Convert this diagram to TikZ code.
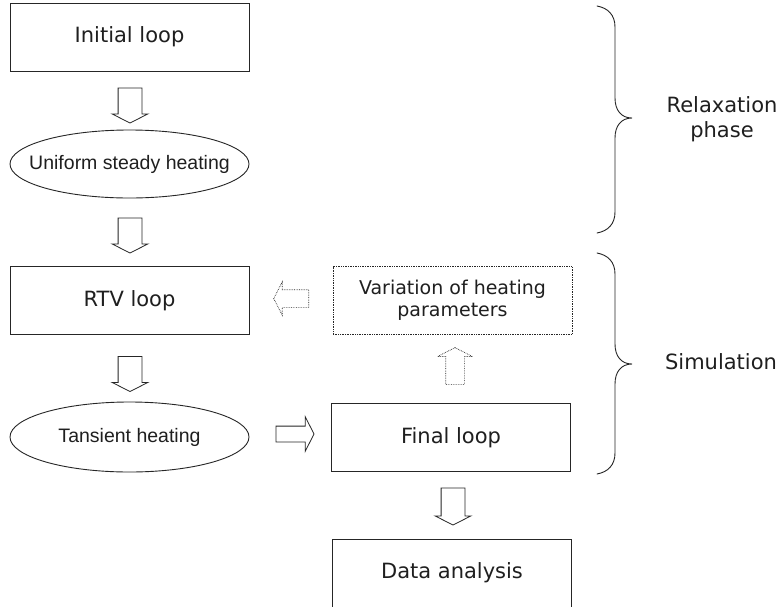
\documentclass[tikz,border=0pt]{standalone}
\usepackage{fontspec}
\setmainfont{DejaVu Sans}
\newfontfamily\ellfont{Liberation Sans}
\usetikzlibrary{shapes.geometric,shapes.arrows}
\begin{document}
\begin{tikzpicture}[x=1pt,y=-1pt,
  ink/.style={draw=black!85,line width=0.9pt},
  box/.style={ink,rectangle,minimum width=239,minimum height=68,inner sep=0pt,
    text=black!88,font=\fontsize{21}{25}\selectfont},
  dotbox/.style={box,draw=black!85,line width=0.7pt,densely dotted,align=center,
    font=\fontsize{19}{22}\selectfont},
  ell/.style={ink,ellipse,minimum width=239,minimum height=68,inner sep=0pt},
  elltext/.style={text=black!88,font=\ellfont\fontsize{19.5}{23}\selectfont},
  barrow/.style={ink,line width=0.8pt,single arrow,inner xsep=0pt,inner ysep=11.5pt,
    minimum height=35,single arrow head extend=6,single arrow tip angle=126},
  dotarrow/.style={barrow,draw=black!85,line width=0.7pt,densely dotted,
    inner ysep=9pt,single arrow head extend=8},
  sidelabel/.style={text=black!88,align=center,font=\fontsize{21}{25}\selectfont},
  brace/.style={ink,line width=0.9pt,line cap=round}]
\clip (0,0) rectangle (782,606);
\fill[white] (0,0) rectangle (782,606);

% main flow
\node[box] (init)   at (129.5,37)  {Initial loop};
\node[ell,label={[elltext]center:Uniform steady heating}] (steady) at (129.5,164) {};
\node[box] (rtv)    at (129.5,300.5) {RTV loop};
\node[ell,minimum height=70,label={[elltext]center:Tansient heating}] (trans) at (129.5,437) {};
\node[dotbox] (vary) at (452.5,300.5) {Variation of heating\\parameters};
\node[box] (final)  at (451,437.5) {Final loop};
\node[box] (data)   at (452,573)   {Data analysis};

% block arrows between the stages
\node[barrow,rotate=-90] (a1) at (130,102.5) {};
\node[barrow,rotate=-90] (a2) at (130,232.5) {};
\node[barrow,rotate=-90] (a3) at (130,371) {};
\node[barrow,inner ysep=7.5pt,single arrow head extend=9.5,minimum height=38] (a4) at (293,434) {};
\node[barrow,rotate=-90,minimum height=37] (a5) at (453,503.5) {};
\node[dotarrow,rotate=90,minimum height=37] (a6) at (455,368.5) {};
\node[dotarrow,rotate=180,inner ysep=8.5pt] (a7) at (293.5,298.5) {};

% phase braces
\draw[brace] (597,6) .. controls (608,8) and (615,15) .. (615,27)
  -- (615,98) .. controls (615,110) and (621,118) .. (632,118)
  .. controls (621,118) and (615,126) .. (615,138)
  -- (615,212) .. controls (615,224) and (608,231) .. (597,233);
\draw[brace] (597,253) .. controls (608,255) and (615,262) .. (615,274)
  -- (615,344) .. controls (615,356) and (621,364) .. (632,364)
  .. controls (621,364) and (615,372) .. (615,384)
  -- (615,453) .. controls (615,465) and (608,472) .. (597,474);

\node[sidelabel] (relax) at (722,119) {Relaxation\\phase};
\node[sidelabel] (sim)   at (721,362) {Simulation};
\end{tikzpicture}
\end{document}
